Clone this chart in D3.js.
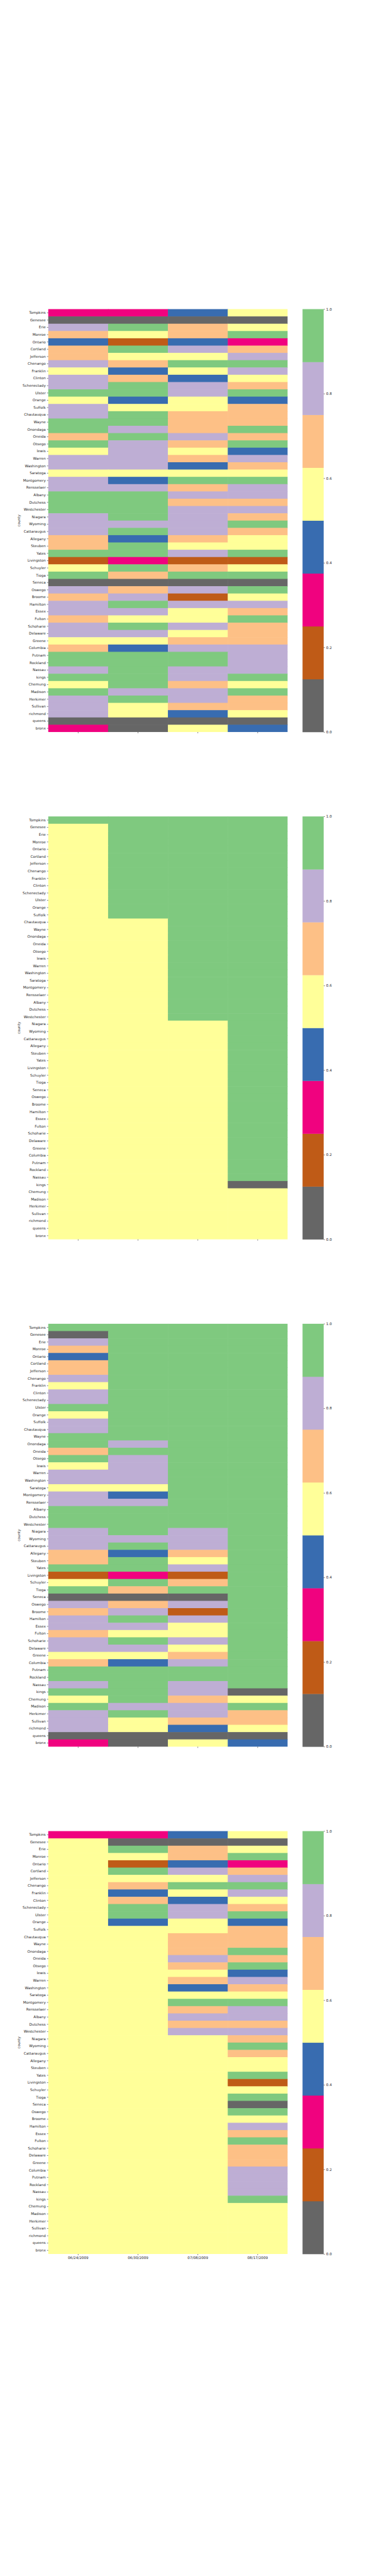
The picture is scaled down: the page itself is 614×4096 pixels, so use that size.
<!DOCTYPE html>
<html><head><meta charset="utf-8">
<script src="https://cdn.jsdelivr.net/npm/d3@7"></script>
<style>
body{margin:0;background:#fff}
svg{display:block}
text{font-family:"DejaVu Sans",sans-serif}
</style>
</head><body>
<svg id="chart" width="614" height="4096" viewBox="0 0 1080 7200" preserveAspectRatio="none"></svg>
<script>
const counties = ["Tompkins","Genesee","Erie","Monroe","Ontario","Cortland","Jefferson","Chenango","Franklin","Clinton","Schenectady","Ulster","Orange","Suffolk","Chautauqua","Wayne","Onondaga","Oneida","Otsego","lewis","Warren","Washington","Saratoga","Montgomery","Rensselaer","Albany","Dutchess","Westchester","Niagara","Wyoming","Cattaraugus","Allegany","Steuben","Yates","Livingston","Schuyler","Tioga","Seneca","Oswego","Broome","Hamilton","Essex","Fulton","Schoharie","Delaware","Greene","Columbia","Putnam","Rockland","Nassau","kings","Chemung","Madison","Herkimer","Sullivan","richmond","queens","bronx"];
const dates = ["06/24/2009","06/30/2009","07/08/2009","08/17/2009"];
const colorbarTicks = [0.0,0.2,0.4,0.6,0.8,1.0];
const palette = ["#666666","#bf5b17","#f0027f","#386cb0","#ffff99","#fdc086","#beaed4","#7fc97f"];

const panel1 = [
[0.31,0.31,0.44,0.56],[0.06,0.06,0.06,0.06],[0.81,0.94,0.69,0.56],[0.69,0.56,0.69,0.94],
[0.44,0.19,0.44,0.31],[0.69,0.94,0.81,0.69],[0.69,0.56,0.56,0.81],[0.81,0.69,0.94,0.94],
[0.56,0.44,0.56,0.81],[0.81,0.69,0.44,0.56],[0.81,0.94,0.81,0.69],[0.94,0.94,0.81,0.94],
[0.56,0.44,0.56,0.44],[0.81,0.56,0.56,0.69],[0.81,0.94,0.69,0.69],[0.94,0.94,0.69,0.69],
[0.94,0.81,0.69,0.94],[0.69,0.94,0.81,0.69],[0.94,0.81,0.69,0.94],[0.56,0.81,0.56,0.44],
[0.81,0.81,0.69,0.81],[0.81,0.81,0.44,0.69],[0.56,0.56,0.56,0.56],[0.81,0.44,0.94,0.94],
[0.81,0.81,0.69,0.81],[0.94,0.94,0.81,0.81],[0.94,0.94,0.69,0.69],[0.94,0.94,0.81,0.81],
[0.81,0.94,0.81,0.69],[0.81,0.81,0.81,0.94],[0.81,0.94,0.81,0.69],[0.69,0.44,0.69,0.56],
[0.69,0.94,0.56,0.56],[0.94,0.94,0.81,0.94],[0.19,0.31,0.19,0.19],[0.56,0.94,0.69,0.56],
[0.94,0.69,0.94,0.94],[0.06,0.06,0.06,0.06],[0.81,0.69,0.81,0.94],[0.69,0.81,0.19,0.56],
[0.81,0.94,0.81,0.81],[0.81,0.81,0.56,0.69],[0.69,0.56,0.56,0.94],[0.81,0.94,0.81,0.69],
[0.81,0.81,0.56,0.69],[0.56,0.56,0.69,0.69],[0.69,0.44,0.81,0.81],[0.94,0.94,0.94,0.81],
[0.94,0.94,0.94,0.81],[0.81,0.94,0.81,0.81],[0.94,0.94,0.81,0.94],[0.56,0.94,0.69,0.56],
[0.94,0.81,0.81,0.94],[0.81,0.94,0.81,0.69],[0.81,0.56,0.69,0.69],[0.81,0.56,0.44,0.56],
[0.06,0.06,0.06,0.06],[0.31,0.06,0.56,0.44]
];

const panel2 = [
[1,1,1,1],[0.5,1,1,1],[0.5,1,1,1],[0.5,1,1,1],[0.5,1,1,1],[0.5,1,1,1],[0.5,1,1,1],
[0.5,1,1,1],[0.5,1,1,1],[0.5,1,1,1],[0.5,1,1,1],[0.5,1,1,1],[0.5,1,1,1],[0.5,1,1,1],
[0.5,0.5,1,1],[0.5,0.5,1,1],[0.5,0.5,1,1],[0.5,0.5,1,1],[0.5,0.5,1,1],[0.5,0.5,1,1],[0.5,0.5,1,1],
[0.5,0.5,1,1],[0.5,0.5,1,1],[0.5,0.5,1,1],[0.5,0.5,1,1],[0.5,0.5,1,1],[0.5,0.5,1,1],[0.5,0.5,1,1],
[0.5,0.5,0.5,1],[0.5,0.5,0.5,1],[0.5,0.5,0.5,1],[0.5,0.5,0.5,1],[0.5,0.5,0.5,1],[0.5,0.5,0.5,1],[0.5,0.5,0.5,1],
[0.5,0.5,0.5,1],[0.5,0.5,0.5,1],[0.5,0.5,0.5,1],[0.5,0.5,0.5,1],[0.5,0.5,0.5,1],[0.5,0.5,0.5,1],[0.5,0.5,0.5,1],
[0.5,0.5,0.5,1],[0.5,0.5,0.5,1],[0.5,0.5,0.5,1],[0.5,0.5,0.5,1],[0.5,0.5,0.5,1],[0.5,0.5,0.5,1],[0.5,0.5,0.5,1],
[0.5,0.5,0.5,1],[0.5,0.5,0.5,0],[0.5,0.5,0.5,0.5],[0.5,0.5,0.5,0.5],[0.5,0.5,0.5,0.5],[0.5,0.5,0.5,0.5],
[0.5,0.5,0.5,0.5],[0.5,0.5,0.5,0.5],[0.5,0.5,0.5,0.5]
];

const panel3 = [
[0.94,0.94,0.94,0.94],[0.06,0.94,0.94,0.94],[0.81,0.94,0.94,0.94],[0.69,0.94,0.94,0.94],
[0.44,0.94,0.94,0.94],[0.69,0.94,0.94,0.94],[0.69,0.94,0.94,0.94],[0.81,0.94,0.94,0.94],
[0.56,0.94,0.94,0.94],[0.81,0.94,0.94,0.94],[0.81,0.94,0.94,0.94],[0.94,0.94,0.94,0.94],
[0.56,0.94,0.94,0.94],[0.81,0.94,0.94,0.94],[0.81,0.94,0.94,0.94],[0.94,0.94,0.94,0.94],
[0.94,0.81,0.94,0.94],[0.69,0.94,0.94,0.94],[0.94,0.81,0.94,0.94],[0.56,0.81,0.94,0.94],
[0.81,0.81,0.94,0.94],[0.81,0.81,0.94,0.94],[0.56,0.56,0.94,0.94],[0.81,0.44,0.94,0.94],
[0.81,0.81,0.94,0.94],[0.94,0.94,0.94,0.94],[0.94,0.94,0.94,0.94],[0.94,0.94,0.94,0.94],
[0.81,0.94,0.81,0.94],[0.81,0.81,0.81,0.94],[0.81,0.94,0.81,0.94],[0.69,0.44,0.69,0.94],
[0.69,0.94,0.56,0.94],[0.94,0.94,0.81,0.94],[0.19,0.31,0.19,0.94],[0.56,0.94,0.69,0.94],
[0.94,0.69,0.94,0.94],[0.06,0.06,0.06,0.94],[0.81,0.69,0.81,0.94],[0.69,0.81,0.19,0.94],
[0.81,0.94,0.81,0.94],[0.81,0.81,0.56,0.94],[0.69,0.56,0.56,0.94],[0.81,0.94,0.81,0.94],
[0.81,0.81,0.56,0.94],[0.56,0.56,0.69,0.94],[0.69,0.44,0.81,0.94],[0.94,0.94,0.94,0.94],
[0.94,0.94,0.94,0.94],[0.81,0.94,0.81,0.94],[0.94,0.94,0.81,0.06],[0.56,0.94,0.69,0.56],
[0.94,0.81,0.81,0.94],[0.81,0.94,0.81,0.69],[0.81,0.56,0.69,0.69],[0.81,0.56,0.44,0.56],
[0.06,0.06,0.06,0.06],[0.31,0.06,0.56,0.44]
];

const panel4 = [
[0.31,0.31,0.44,0.56],[0.56,0.06,0.06,0.06],[0.56,0.94,0.69,0.56],[0.56,0.56,0.69,0.94],
[0.56,0.19,0.44,0.31],[0.56,0.94,0.81,0.69],[0.56,0.56,0.56,0.81],[0.56,0.69,0.94,0.94],
[0.56,0.44,0.56,0.81],[0.56,0.69,0.44,0.56],[0.56,0.94,0.81,0.69],[0.56,0.94,0.81,0.94],
[0.56,0.44,0.56,0.44],[0.56,0.56,0.56,0.69],[0.56,0.56,0.69,0.69],[0.56,0.56,0.69,0.69],
[0.56,0.56,0.69,0.94],[0.56,0.56,0.81,0.69],[0.56,0.56,0.69,0.94],[0.56,0.56,0.56,0.44],
[0.56,0.56,0.69,0.81],[0.56,0.56,0.44,0.69],[0.56,0.56,0.56,0.56],[0.56,0.56,0.94,0.94],
[0.56,0.56,0.69,0.81],[0.56,0.56,0.81,0.81],[0.56,0.56,0.69,0.69],[0.56,0.56,0.81,0.81],
[0.56,0.56,0.56,0.69],[0.56,0.56,0.56,0.94],[0.56,0.56,0.56,0.69],[0.56,0.56,0.56,0.56],
[0.56,0.56,0.56,0.56],[0.56,0.56,0.56,0.94],[0.56,0.56,0.56,0.19],[0.56,0.56,0.56,0.56],
[0.56,0.56,0.56,0.94],[0.56,0.56,0.56,0.06],[0.56,0.56,0.56,0.94],[0.56,0.56,0.56,0.56],
[0.56,0.56,0.56,0.81],[0.56,0.56,0.56,0.69],[0.56,0.56,0.56,0.94],[0.56,0.56,0.56,0.69],
[0.56,0.56,0.56,0.69],[0.56,0.56,0.56,0.69],[0.56,0.56,0.56,0.81],[0.56,0.56,0.56,0.81],
[0.56,0.56,0.56,0.81],[0.56,0.56,0.56,0.81],[0.56,0.56,0.56,0.94],[0.56,0.56,0.56,0.56],
[0.56,0.56,0.56,0.56],[0.56,0.56,0.56,0.56],[0.56,0.56,0.56,0.56],[0.56,0.56,0.56,0.56],
[0.56,0.56,0.56,0.56],[0.56,0.56,0.56,0.56]
];

const panels = [panel1, panel2, panel3, panel4];

const svg = d3.select("#chart");
svg.append("rect").attr("width",1080).attr("height",7200).attr("fill","#fff");

const L = 135, W = 669.6, T0 = 864, H = 1182, PITCH = 1418, CBX = 846.5, CBW = 59.1;
const TXT = "#262626";
const x = d3.scaleBand().domain(dates).range([L, L + W]);
const color = d3.scaleQuantize().domain([0, 1]).range(palette);

function styleAxis(g){
  g.select(".domain").remove();
  g.selectAll(".tick line").attr("stroke", TXT).attr("stroke-width", 1);
  g.selectAll(".tick text").attr("fill", TXT).attr("font-size", 10).attr("font-family", "DejaVu Sans");
}

panels.forEach((data, i) => {
  const top = T0 + i * PITCH;
  const y = d3.scaleBand().domain(counties).range([top, top + H]);
  const cells = [];
  data.forEach((row, r) => row.forEach((v, c) => cells.push({county: counties[r], date: dates[c], r, c, v})));
  const g = svg.append("g");
  g.selectAll("rect").data(cells).join("rect")
    .attr("x", d => x(d.date))
    .attr("y", d => y(d.county))
    .attr("width", d => x.bandwidth() + (d.c < dates.length - 1 ? 1 : 0))
    .attr("height", d => y.bandwidth() + (d.r < counties.length - 1 ? 1 : 0))
    .attr("fill", d => color(d.v));

  svg.append("g").attr("transform", `translate(${L},0)`)
    .call(d3.axisLeft(y).tickSize(3.5).tickPadding(3.5)).call(styleAxis);

  const last = i === panels.length - 1;
  svg.append("g").attr("transform", `translate(0,${top + H})`)
    .call(d3.axisBottom(x).tickSize(3.5).tickPadding(3.5).tickFormat(last ? (d => d) : (() => "")))
    .call(styleAxis);

  svg.append("text").attr("transform", `translate(56,${top + H / 2}) rotate(-90)`)
    .attr("text-anchor", "middle").attr("font-size", 10).attr("fill", TXT).text("county");

  const cy = d3.scaleLinear().domain([0, 1]).range([top + H, top]);
  const bins = palette.map((c, k) => ({c, lo: k / palette.length, hi: (k + 1) / palette.length}));
  svg.append("g").selectAll("rect").data(bins).join("rect")
    .attr("x", CBX).attr("width", CBW)
    .attr("y", d => cy(d.hi)).attr("height", d => cy(d.lo) - cy(d.hi) + 0.5)
    .attr("fill", d => d.c);
  svg.append("g").attr("transform", `translate(${CBX + CBW},0)`)
    .call(d3.axisRight(cy).tickValues(colorbarTicks).tickFormat(d3.format(".1f")).tickSize(3.5).tickPadding(3.5))
    .call(styleAxis);
});
</script>
</body></html>
